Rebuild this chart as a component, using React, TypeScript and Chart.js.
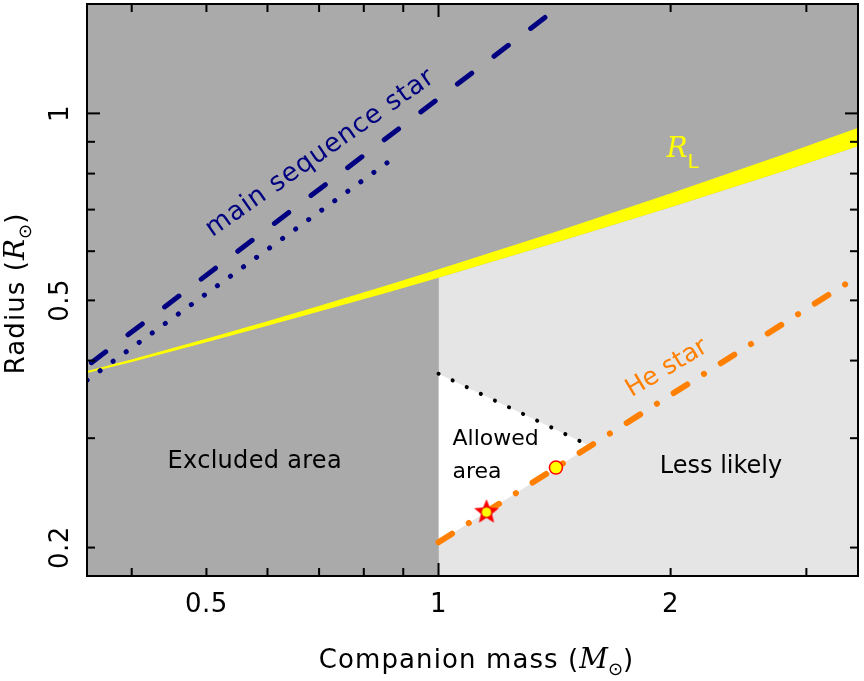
import React, { useEffect, useRef } from 'react';
import { Chart, registerables } from 'chart.js';

Chart.register(...registerables);

// ---- axis ranges ----
const X_MIN = 0.35;
const X_MAX = 3.5;
const Y_MIN = 0.18;
const Y_MAX = 1.5;

// ---- Roche-lobe radius band (R_L) ----
const rocheMass = [0.35, 0.4, 0.5, 0.6, 0.7, 0.85, 1, 1.4, 2, 2.8, 3.5];
const rocheUpper = [0.384, 0.401, 0.433, 0.462, 0.489, 0.526, 0.56, 0.64, 0.742, 0.857, 0.946];
const rocheLower = [0.382, 0.398, 0.428, 0.455, 0.48, 0.513, 0.544, 0.616, 0.706, 0.807, 0.885];

// ---- main sequence star tracks ----
const msDashedMass = [0.35, 1.5];
const msDashedRadius = [0.392, 1.55];
const msDottedMass = [0.35, 0.859];
const msDottedRadius = [0.372, 0.834];

// ---- He star track ----
const heMass = [1, 3.42];
const heRadius = [0.204, 0.537];

// ---- upper limit of allowed area (black dotted) ----
const limitMass = [1, 1.573];
const limitRadius = [0.381, 0.2915];
const limitHeRadius = [0.204, 0.2915];

// ---- markers ----
const starMass = [1.154];
const starRadius = [0.228];
const dotMass = [1.42];
const dotRadius = [0.269];

// ---- ticks ----
const xTickLabels = [0.5, 1, 2];
const yTickLabels = [0.2, 0.5, 1];
const xMinorTicks = [0.4, 0.5, 0.6, 0.7, 0.8, 0.9, 2, 3];
const xMajorTicks = [1];
const yMinorTicks = [0.2, 0.3, 0.4, 0.5, 0.6, 0.7, 0.8, 0.9];
const yMajorTicks = [1];

const NAVY = '#000080';
const ORANGE = '#FF8000';
const YELLOW = '#FFFF00';
const SANS = "'DejaVu Sans'";
const SERIF = "'DejaVu Serif'";

const pts = (xs: number[], ys: number[]) => xs.map((x, i) => ({ x, y: ys[i] }));

type Part = { text: string; font: string; dy?: number; spacing?: number };

function drawParts(
  ctx: CanvasRenderingContext2D,
  parts: Part[],
  x: number,
  y: number,
  angleDeg: number,
  align: 'center' | 'left',
  color: string
) {
  ctx.save();
  ctx.translate(x, y);
  ctx.rotate((angleDeg * Math.PI) / 180);
  ctx.fillStyle = color;
  ctx.textAlign = 'left';
  ctx.textBaseline = 'alphabetic';
  const widths = parts.map((p) => {
    ctx.font = p.font;
    (ctx as any).letterSpacing = (p.spacing || 0) + 'px';
    return ctx.measureText(p.text).width;
  });
  const total = widths.reduce((s, w) => s + w, 0);
  let cx = align === 'center' ? -total / 2 : 0;
  parts.forEach((p, i) => {
    ctx.font = p.font;
    (ctx as any).letterSpacing = (p.spacing || 0) + 'px';
    ctx.fillText(p.text, cx, p.dy || 0);
    cx += widths[i];
  });
  (ctx as any).letterSpacing = '0px';
  ctx.restore();
}

const decorPlugin = {
  id: 'decor',
  beforeDatasetsDraw(chart: any) {
    const { ctx, chartArea: a } = chart;
    ctx.save();
    ctx.fillStyle = '#AAAAAA';
    ctx.fillRect(a.left, a.top, a.right - a.left, a.bottom - a.top);
    ctx.restore();
  },
  afterDatasetsDraw(chart: any) {
    const { ctx, chartArea: a, scales } = chart;
    const xs = scales.x;
    const ys = scales.y;
    const X = (v: number) => xs.getPixelForValue(v);
    const Y = (v: number) => ys.getPixelForValue(v);

    // in-plot annotations (anchored in data coordinates)
    drawParts(ctx, [{ text: 'main sequence star', font: `26px ${SANS}`, spacing: 0.9 }], X(0.711), Y(0.845), -35, 'center', NAVY);
    drawParts(ctx, [{ text: 'He star', font: `25px ${SANS}` }], X(1.998), Y(0.3806), -31, 'center', ORANGE);
    drawParts(
      ctx,
      [
        { text: 'R', font: `italic 28px ${SERIF}` },
        { text: 'L', font: `20px ${SANS}`, dy: 11 },
      ],
      X(1.975),
      Y(0.8494),
      0,
      'left',
      YELLOW
    );
    drawParts(ctx, [{ text: 'Excluded area', font: `24px ${SANS}`, spacing: 0.3 }], X(0.5776), Y(0.2691), 0, 'center', '#000');
    drawParts(ctx, [{ text: 'Allowed', font: `22px ${SANS}` }], X(1.0426), Y(0.292), 0, 'left', '#000');
    drawParts(ctx, [{ text: 'area', font: `22px ${SANS}` }], X(1.0426), Y(0.2593), 0, 'left', '#000');
    drawParts(ctx, [{ text: 'Less likely', font: `24px ${SANS}` }], X(2.325), Y(0.2641), 0, 'center', '#000');

    // frame
    ctx.save();
    ctx.strokeStyle = '#000';
    ctx.lineWidth = 2;
    ctx.strokeRect(a.left, a.top, a.right - a.left, a.bottom - a.top);

    // inward ticks on all four sides
    const line = (x1: number, y1: number, x2: number, y2: number) => {
      ctx.beginPath();
      ctx.moveTo(x1, y1);
      ctx.lineTo(x2, y2);
      ctx.stroke();
    };
    const xTicks = (vals: number[], len: number) =>
      vals.forEach((v) => {
        const px = X(v);
        line(px, a.bottom, px, a.bottom - len);
        line(px, a.top, px, a.top + len);
      });
    const yTicks = (vals: number[], len: number) =>
      vals.forEach((v) => {
        const py = Y(v);
        line(a.left, py, a.left + len, py);
        line(a.right, py, a.right - len, py);
      });
    xTicks(xMinorTicks, 8);
    xTicks(xMajorTicks, 13);
    yTicks(yMinorTicks, 8);
    yTicks(yMajorTicks, 13);
    ctx.restore();

    // tick labels
    xTickLabels.forEach((v) =>
      drawParts(ctx, [{ text: String(v), font: `26px ${SANS}`, spacing: 0.5 }], X(v), a.bottom + 36, 0, 'center', '#000')
    );
    yTickLabels.forEach((v) =>
      drawParts(ctx, [{ text: String(v), font: `26px ${SANS}`, spacing: 0.5 }], a.left - 19, Y(v), -90, 'center', '#000')
    );

    // axis titles
    drawParts(
      ctx,
      [
        { text: 'Companion mass (', font: `26px ${SANS}`, spacing: 1.1 },
        { text: 'M', font: `italic 28px ${SERIF}` },
        { text: '\u2299', font: `18px ${SANS}`, dy: 7 },
        { text: ')', font: `26px ${SANS}` },
      ],
      (a.left + a.right) / 2 + 3.5,
      a.bottom + 92,
      0,
      'center',
      '#000'
    );
    drawParts(
      ctx,
      [
        { text: 'Radius (', font: `26px ${SANS}`, spacing: 1.1 },
        { text: 'R', font: `italic 28px ${SERIF}` },
        { text: '\u2299', font: `18px ${SANS}`, dy: 7 },
        { text: ')', font: `26px ${SANS}` },
      ],
      a.left - 63.5,
      (a.top + a.bottom) / 2 + 4,
      -90,
      'center',
      '#000'
    );
  },
};

function makeStarMarker(): HTMLCanvasElement {
  const c = document.createElement('canvas');
  c.width = 32;
  c.height = 32;
  const g = c.getContext('2d')!;
  g.translate(16, 16);
  g.beginPath();
  for (let i = 0; i < 10; i++) {
    const r = i % 2 === 0 ? 13 : 5.8;
    const ang = -Math.PI / 2 + (i * Math.PI) / 5;
    g.lineTo(r * Math.cos(ang), r * Math.sin(ang));
  }
  g.closePath();
  g.fillStyle = '#FF0000';
  g.fill();
  g.beginPath();
  g.arc(0, 0, 5.2, 0, Math.PI * 2);
  g.fillStyle = YELLOW;
  g.fill();
  g.lineWidth = 1;
  g.strokeStyle = '#E00000';
  g.stroke();
  return c;
}

export default function App() {
  const ref = useRef<HTMLCanvasElement>(null);

  useEffect(() => {
    if (!ref.current) return;
    const hidden = 'rgba(0,0,0,0)';
    const lightGray = rocheMass
      .map((m, i) => ({ x: m, y: rocheLower[i] }))
      .filter((p) => p.x >= 1);

    const datasets: any[] = [
      // 0: less-likely region (light gray, below R_L for M >= 1)
      {
        data: lightGray,
        borderColor: hidden,
        borderWidth: 0,
        backgroundColor: '#E5E5E5',
        fill: 'start',
        pointRadius: 0,
        order: 20,
      },
      // 1: lower edge of R_L band
      {
        data: pts(rocheMass, rocheLower),
        borderColor: hidden,
        borderWidth: 0,
        fill: false,
        pointRadius: 0,
        order: 15,
      },
      // 2: upper edge of R_L band, filled to lower edge
      {
        data: pts(rocheMass, rocheUpper),
        borderColor: YELLOW,
        borderWidth: 1,
        backgroundColor: YELLOW,
        fill: 1,
        pointRadius: 0,
        order: 14,
      },
      // 3: He-star boundary of allowed area
      {
        data: pts(limitMass, limitHeRadius),
        borderColor: hidden,
        borderWidth: 0,
        fill: false,
        pointRadius: 0,
        order: 13,
      },
      // 4: black dotted upper limit, allowed area filled white
      {
        data: pts(limitMass, limitRadius),
        borderColor: '#000',
        borderWidth: 4,
        borderDash: [0.1, 15.5],
        borderCapStyle: 'round',
        backgroundColor: '#FFFFFF',
        fill: 3,
        pointRadius: 0,
        order: 12,
      },
      // 5: main sequence dotted
      {
        data: pts(msDottedMass, msDottedRadius),
        borderColor: NAVY,
        borderWidth: 5,
        borderDash: [0.1, 16],
        borderCapStyle: 'round',
        fill: false,
        pointRadius: 0,
        order: 5,
      },
      // 6: main sequence dashed
      {
        data: pts(msDashedMass, msDashedRadius),
        borderColor: NAVY,
        borderWidth: 5,
        borderDash: [18, 28],
        borderDashOffset: 40.5,
        borderCapStyle: 'round',
        fill: false,
        pointRadius: 0,
        order: 4,
      },
      // 7: He star dash-dot
      {
        data: pts(heMass, heRadius),
        borderColor: ORANGE,
        borderWidth: 6,
        borderDash: [16, 19.8, 0.1, 19.8],
        borderCapStyle: 'round',
        fill: false,
        pointRadius: 0,
        order: 3,
      },
      // 8: yellow circle marker
      {
        data: pts(dotMass, dotRadius),
        showLine: false,
        pointStyle: 'circle',
        pointRadius: 6.5,
        pointBackgroundColor: YELLOW,
        pointBorderColor: '#FF0000',
        pointBorderWidth: 1.5,
        order: 1,
      },
      // 9: star marker
      {
        data: pts(starMass, starRadius),
        showLine: false,
        pointStyle: makeStarMarker(),
        pointRadius: 10,
        order: 0,
      },
    ];
    datasets.forEach((d) => {
      d.clip = 0;
      d.tension = 0;
    });

    const chart = new Chart(ref.current, {
      type: 'line',
      data: { datasets },
      options: {
        responsive: false,
        animation: false,
        devicePixelRatio: 1,
        events: [],
        layout: { autoPadding: false, padding: { left: 87, right: 6, top: 4, bottom: 105 } },
        plugins: {
          legend: { display: false },
          tooltip: { enabled: false },
        },
        scales: {
          x: { type: 'logarithmic', min: X_MIN, max: X_MAX, display: false },
          y: { type: 'logarithmic', min: Y_MIN, max: Y_MAX, display: false },
        },
      },
      plugins: [decorPlugin],
    } as any);
    return () => chart.destroy();
  }, []);

  return (
    <div style={{ position: 'absolute', left: 0, top: 0, width: 864, height: 681 }}>
      <canvas ref={ref} width={864} height={681} style={{ display: 'block', width: 864, height: 681 }} />
    </div>
  );
}
